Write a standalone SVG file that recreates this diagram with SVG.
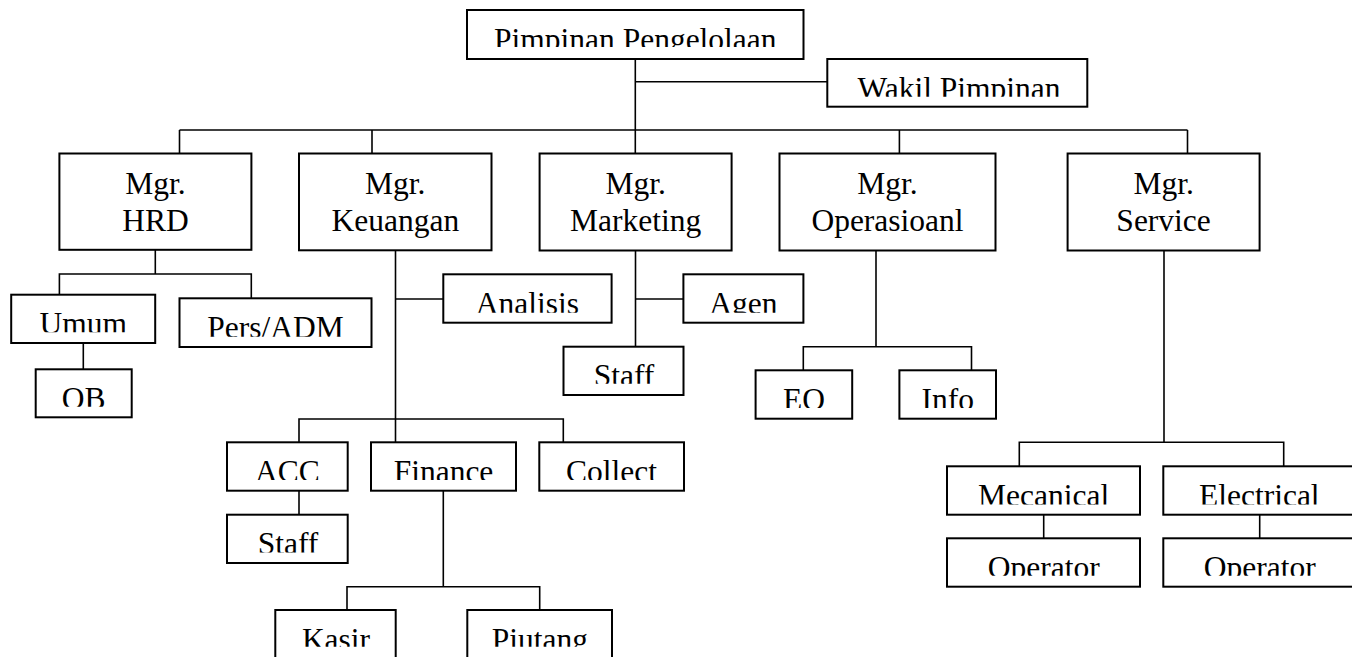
<svg xmlns="http://www.w3.org/2000/svg" width="1352" height="657" viewBox="0 0 1352 657">
  <style>
    .box { fill: #ffffff; stroke: #000000; stroke-width: 2; }
    text { font-family: 'Liberation Serif', 'DejaVu Serif', serif; font-size: 31.5px; text-anchor: middle; fill: #000000; }
    #connectors path { fill: none; stroke: #000000; stroke-width: 1.6; }
  </style>
  <defs>
    <!-- text areas of the single-line boxes: anything below the inner margin is cut off -->
    <clipPath id="c-pimpinan" clipPathUnits="userSpaceOnUse"><rect x="467" y="10" width="336.5" height="37"/></clipPath>
    <clipPath id="c-wakil" clipPathUnits="userSpaceOnUse"><rect x="827.3" y="59" width="260" height="37.7"/></clipPath>
    <clipPath id="c-umum" clipPathUnits="userSpaceOnUse"><rect x="11.2" y="294.7" width="144" height="37.5"/></clipPath>
    <clipPath id="c-pers" clipPathUnits="userSpaceOnUse"><rect x="179.5" y="298.3" width="192" height="38.4"/></clipPath>
    <clipPath id="c-ob" clipPathUnits="userSpaceOnUse"><rect x="35.7" y="369.3" width="96" height="37.4"/></clipPath>
    <clipPath id="c-analisis" clipPathUnits="userSpaceOnUse"><rect x="443.3" y="274.3" width="168.3" height="38.4"/></clipPath>
    <clipPath id="c-agen" clipPathUnits="userSpaceOnUse"><rect x="683.4" y="274.3" width="120" height="38.4"/></clipPath>
    <clipPath id="c-staff1" clipPathUnits="userSpaceOnUse"><rect x="563.5" y="346.7" width="120" height="37"/></clipPath>
    <clipPath id="c-eo" clipPathUnits="userSpaceOnUse"><rect x="755.6" y="370.3" width="96.6" height="37.7"/></clipPath>
    <clipPath id="c-info" clipPathUnits="userSpaceOnUse"><rect x="899.4" y="370.3" width="96.6" height="37.7"/></clipPath>
    <clipPath id="c-acc" clipPathUnits="userSpaceOnUse"><rect x="227" y="442.3" width="120.7" height="37.7"/></clipPath>
    <clipPath id="c-finance" clipPathUnits="userSpaceOnUse"><rect x="371" y="442.3" width="145" height="37.7"/></clipPath>
    <clipPath id="c-collect" clipPathUnits="userSpaceOnUse"><rect x="539.3" y="442.3" width="144.7" height="37.7"/></clipPath>
    <clipPath id="c-staff2" clipPathUnits="userSpaceOnUse"><rect x="227" y="514.7" width="120.7" height="37.7"/></clipPath>
    <clipPath id="c-kasir" clipPathUnits="userSpaceOnUse"><rect x="275.3" y="610" width="120.4" height="36.7"/></clipPath>
    <clipPath id="c-piutang" clipPathUnits="userSpaceOnUse"><rect x="467.3" y="610" width="144.7" height="36.7"/></clipPath>
    <clipPath id="c-mecanical" clipPathUnits="userSpaceOnUse"><rect x="947" y="466.3" width="193" height="38.2"/></clipPath>
    <clipPath id="c-electrical" clipPathUnits="userSpaceOnUse"><rect x="1163.3" y="466.3" width="193" height="38.2"/></clipPath>
    <clipPath id="c-operator1" clipPathUnits="userSpaceOnUse"><rect x="947" y="538.3" width="193" height="37.5"/></clipPath>
    <clipPath id="c-operator2" clipPathUnits="userSpaceOnUse"><rect x="1163.3" y="538.3" width="193" height="37.5"/></clipPath>
  </defs>

  <rect width="1352" height="657" fill="#ffffff"/>

  <g id="connectors">
    <!-- top level -->
    <path d="M635.3 59 V153.5"/>
    <path d="M635.3 81.7 H827.3"/>
    <path d="M179.5 130 H1187.5"/>
    <path d="M179.5 130 V153.5"/>
    <path d="M372 130 V153.5"/>
    <path d="M899.4 130 V153.5"/>
    <path d="M1187.5 130 V153.5"/>
    <!-- HRD -->
    <path d="M155.3 249.8 V274"/>
    <path d="M59.4 294.7 V274 H251.3 V298.3"/>
    <path d="M83.3 343 V369.3"/>
    <!-- Keuangan -->
    <path d="M395.5 250.5 V442.3"/>
    <path d="M395.5 299 H443.3"/>
    <path d="M299 442.3 V419 H563.3 V442.3"/>
    <path d="M299 490.7 V514.7"/>
    <path d="M443.3 490.7 V586.7"/>
    <path d="M347 610 V586.7 H539.7 V610"/>
    <!-- Marketing -->
    <path d="M635.5 250.7 V346.7"/>
    <path d="M635.5 299 H683.4"/>
    <!-- Operasional -->
    <path d="M876 250.7 V346.7"/>
    <path d="M803.3 370.3 V346.7 H971.5 V370.3"/>
    <!-- Service -->
    <path d="M1164 250.7 V442.3"/>
    <path d="M1019.3 466.3 V442.3 H1283.7 V466.3"/>
    <path d="M1043.7 514.7 V538.3"/>
    <path d="M1259.7 514.7 V538.3"/>
  </g>

  <g id="pimpinan">
    <rect class="box" x="467" y="10" width="336.5" height="49"/>
    <text x="635.3" y="49.5" clip-path="url(#c-pimpinan)">Pimpinan Pengelolaan</text>
  </g>
  <g id="wakil">
    <rect class="box" x="827.3" y="59" width="260" height="47.7"/>
    <text x="959" y="98.5" clip-path="url(#c-wakil)">Wakil Pimpinan</text>
  </g>

  <g id="mgr-hrd">
    <rect class="box" x="59.4" y="153.5" width="192" height="96.3"/>
    <text x="155.4" y="193.5">Mgr.</text>
    <text x="155.4" y="231">HRD</text>
  </g>
  <g id="mgr-keuangan">
    <rect class="box" x="299" y="153.5" width="192.5" height="96.8"/>
    <text x="395.3" y="193.5">Mgr.</text>
    <text x="395.3" y="231">Keuangan</text>
  </g>
  <g id="mgr-marketing">
    <rect class="box" x="539.6" y="153.5" width="192" height="97"/>
    <text x="635.6" y="193.5">Mgr.</text>
    <text x="635.6" y="231">Marketing</text>
  </g>
  <g id="mgr-operasional">
    <rect class="box" x="779.5" y="153.5" width="216" height="97"/>
    <text x="887.5" y="193.5">Mgr.</text>
    <text x="887.5" y="231">Operasioanl</text>
  </g>
  <g id="mgr-service">
    <rect class="box" x="1067.6" y="153.5" width="192" height="97"/>
    <text x="1163.6" y="193.5">Mgr.</text>
    <text x="1163.6" y="231">Service</text>
  </g>

  <g id="umum">
    <rect class="box" x="11.2" y="294.7" width="144" height="48.3"/>
    <text x="83.3" y="334.3" clip-path="url(#c-umum)">Umum</text>
  </g>
  <g id="pers-adm">
    <rect class="box" x="179.5" y="298.3" width="192" height="48.7"/>
    <text x="275.5" y="337.9" clip-path="url(#c-pers)">Pers/ADM</text>
  </g>
  <g id="ob">
    <rect class="box" x="35.7" y="369.3" width="96" height="48"/>
    <text x="83.7" y="408.9" clip-path="url(#c-ob)">OB</text>
  </g>

  <g id="analisis">
    <rect class="box" x="443.3" y="274.3" width="168.3" height="48.4"/>
    <text x="527.5" y="313.9" clip-path="url(#c-analisis)">Analisis</text>
  </g>
  <g id="acc">
    <rect class="box" x="227" y="442.3" width="120.7" height="48.4"/>
    <text x="287.5" y="481.9" clip-path="url(#c-acc)">ACC</text>
  </g>
  <g id="finance">
    <rect class="box" x="371" y="442.3" width="145" height="48.4"/>
    <text x="443.5" y="481.9" clip-path="url(#c-finance)">Finance</text>
  </g>
  <g id="collect">
    <rect class="box" x="539.3" y="442.3" width="144.7" height="48.4"/>
    <text x="611.6" y="481.9" clip-path="url(#c-collect)">Collect</text>
  </g>
  <g id="staff-acc">
    <rect class="box" x="227" y="514.7" width="120.7" height="48.3"/>
    <text x="288" y="554.3" clip-path="url(#c-staff2)">Staff</text>
  </g>
  <g id="kasir">
    <rect class="box" x="275.3" y="610" width="120.4" height="49"/>
    <text x="336" y="649.6" clip-path="url(#c-kasir)">Kasir</text>
  </g>
  <g id="piutang">
    <rect class="box" x="467.3" y="610" width="144.7" height="49"/>
    <text x="539.8" y="649.6" clip-path="url(#c-piutang)">Piutang</text>
  </g>

  <g id="agen">
    <rect class="box" x="683.4" y="274.3" width="120" height="48.4"/>
    <text x="743.4" y="313.9" clip-path="url(#c-agen)">Agen</text>
  </g>
  <g id="staff-marketing">
    <rect class="box" x="563.5" y="346.7" width="120" height="48.3"/>
    <text x="624" y="386.3" clip-path="url(#c-staff1)">Staff</text>
  </g>

  <g id="eo">
    <rect class="box" x="755.6" y="370.3" width="96.6" height="48.4"/>
    <text x="803.9" y="409.9" clip-path="url(#c-eo)">EO</text>
  </g>
  <g id="info">
    <rect class="box" x="899.4" y="370.3" width="96.6" height="48.4"/>
    <text x="947.7" y="409.9" clip-path="url(#c-info)">Info</text>
  </g>

  <g id="mecanical">
    <rect class="box" x="947" y="466.3" width="193" height="48.4"/>
    <text x="1043.6" y="505.9" clip-path="url(#c-mecanical)">Mecanical</text>
  </g>
  <g id="electrical">
    <rect class="box" x="1163.3" y="466.3" width="193" height="48.4"/>
    <text x="1259.3" y="505.9" clip-path="url(#c-electrical)">Electrical</text>
  </g>
  <g id="operator-mecanical">
    <rect class="box" x="947" y="538.3" width="193" height="48.4"/>
    <text x="1043.8" y="577.9" clip-path="url(#c-operator1)">Operator</text>
  </g>
  <g id="operator-electrical">
    <rect class="box" x="1163.3" y="538.3" width="193" height="48.4"/>
    <text x="1259.7" y="577.9" clip-path="url(#c-operator2)">Operator</text>
  </g>
</svg>
